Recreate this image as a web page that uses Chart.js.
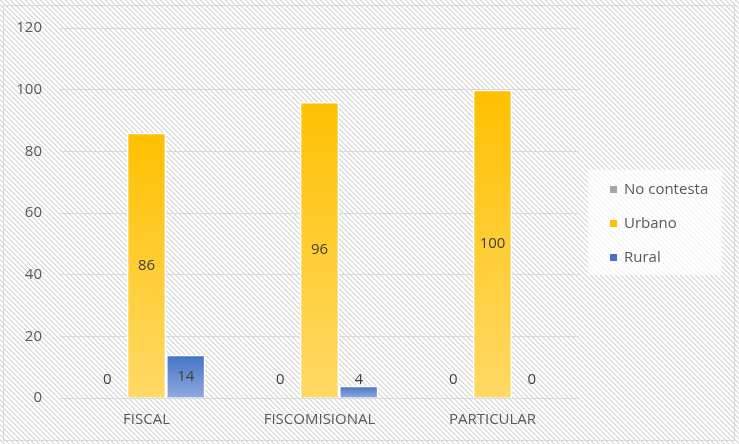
<!DOCTYPE html>
<html>
<head>
<meta charset="utf-8">
<script src="https://cdn.jsdelivr.net/npm/chart.js@4.4.1/dist/chart.umd.min.js"></script>
<style>
  html, body { margin: 0; padding: 0; background: #fff; }
  #wrap { width: 739px; height: 444px; }
</style>
</head>
<body>
<div id="wrap"><canvas id="barChart" width="739" height="444"></canvas></div>
<script>
// data
var categories = ['FISCAL', 'FISCOMISIONAL', 'PARTICULAR'];
var noContesta = [0, 0, 0];
var urbano = [86, 96, 100];
var rural = [14, 4, 0];
var yTicks = [0, 20, 40, 60, 80, 100, 120];

var FONT = "'Open Sans', 'Liberation Sans', sans-serif";

// diagonal hatch used as the chart background
function makeHatch(ctx) {
    var tile = document.createElement('canvas');
    tile.width = 5;
    tile.height = 5;
    var t = tile.getContext('2d');
    t.fillStyle = '#ffffff';
    t.fillRect(0, 0, 5, 5);
    for (var x = 0; x < 5; x++) {
        for (var y = 0; y < 5; y++) {
            var d = ((x - y) % 5 + 5) % 5;
            if (d === 0) { t.fillStyle = '#d6d6d6'; t.fillRect(x, y, 1, 1); }
            if (d === 1) { t.fillStyle = '#e6e6e6'; t.fillRect(x, y, 1, 1); }
        }
    }
    return ctx.createPattern(tile, 'repeat');
}

// gradient per bar: darker at top, lighter toward the axis
function barGradient(top, bottom) {
    return function (context) {
        var chart = context.chart;
        if (!chart.chartArea) return top;
        var v = context.raw;
        var y = chart.scales.y;
        var y0 = y.getPixelForValue(v);
        var y1 = y.getPixelForValue(0);
        if (y1 - y0 < 1) return top;
        var g = chart.ctx.createLinearGradient(0, y0, 0, y1);
        g.addColorStop(0, top);
        g.addColorStop(1, bottom);
        return g;
    };
}

var legendItems = [
    { text: 'No contesta', color: '#a5a5a5' },
    { text: 'Urbano', color: '#ffc000' },
    { text: 'Rural', color: '#4472c4' }
];

var backgroundPlugin = {
    id: 'background',
    beforeDraw: function (chart) {
        var ctx = chart.ctx;
        ctx.save();
        ctx.fillStyle = makeHatch(ctx);
        ctx.fillRect(0, 0, chart.width, chart.height);
        ctx.strokeStyle = '#d9d9d9';
        ctx.lineWidth = 1;
        ctx.strokeRect(3.5, 5.5, 731, 435);
        ctx.restore();
    }
};

// simple right-side legend like the Excel one
var legendPlugin = {
    id: 'sideLegend',
    afterDraw: function (chart) {
        var ctx = chart.ctx;
        ctx.save();
        ctx.fillStyle = 'rgba(255,255,255,0.7)';
        ctx.fillRect(588, 170, 134, 105);
        ctx.font = '15px ' + FONT;
        ctx.textBaseline = 'middle';
        ctx.textAlign = 'left';
        legendItems.forEach(function (item, i) {
            var cy = 190 + i * 34;
            ctx.fillStyle = item.color;
            ctx.fillRect(610, cy - 4, 7, 7);
            ctx.fillStyle = '#595959';
            ctx.fillText(item.text, 624, cy);
        });
        ctx.restore();
    }
};

// value labels centred in the bars (lifted for short bars)
var valueLabelPlugin = {
    id: 'valueLabels',
    afterDatasetsDraw: function (chart) {
        var ctx = chart.ctx;
        var base = chart.scales.y.getPixelForValue(0);
        ctx.save();
        ctx.font = '15px ' + FONT;
        ctx.fillStyle = '#404040';
        ctx.textAlign = 'center';
        ctx.textBaseline = 'middle';
        chart.data.datasets.forEach(function (ds, di) {
            var meta = chart.getDatasetMeta(di);
            meta.data.forEach(function (bar, i) {
                var cy = Math.min((bar.y + base) / 2, base - 18);
                ctx.fillText(String(ds.data[i]), bar.x, cy);
            });
        });
        ctx.restore();
    }
};

new Chart(document.getElementById('barChart').getContext('2d'), {
    type: 'bar',
    data: {
        labels: categories,
        datasets: [{
            label: 'No contesta',
            data: noContesta,
            backgroundColor: '#a5a5a5',
            borderColor: '#ffffff',
            borderWidth: 0
        }, {
            label: 'Urbano',
            data: urbano,
            backgroundColor: barGradient('#ffc000', '#ffd966'),
            borderColor: '#ffffff',
            borderWidth: 1.5,
            borderSkipped: 'bottom'
        }, {
            label: 'Rural',
            data: rural,
            backgroundColor: barGradient('#4472c4', '#8faadc'),
            borderColor: '#ffffff',
            borderWidth: 1.5,
            borderSkipped: 'bottom'
        }]
    },
    options: {
        responsive: false,
        animation: false,
        categoryPercentage: 0.68,
        barPercentage: 1,
        layout: {
            padding: { top: 28, right: 160, bottom: 0, left: 0 }
        },
        plugins: {
            legend: { display: false },
            tooltip: { enabled: false }
        },
        scales: {
            x: {
                grid: { display: false, drawTicks: false },
                border: { display: false },
                ticks: {
                    color: '#595959',
                    font: { family: FONT, size: 15 },
                    padding: 13
                },
                afterFit: function (scale) { scale.height = 46; }
            },
            y: {
                min: 0,
                max: 120,
                afterBuildTicks: function (scale) {
                    scale.ticks = yTicks.map(function (v) { return { value: v }; });
                },
                grid: { color: '#d9d9d9', lineWidth: 1, drawTicks: false },
                border: { display: false },
                ticks: {
                    color: '#595959',
                    font: { family: FONT, size: 15 },
                    padding: 18
                },
                afterFit: function (scale) { scale.width = 60; }
            }
        }
    },
    plugins: [backgroundPlugin, valueLabelPlugin, legendPlugin]
});
</script>
</body>
</html>
